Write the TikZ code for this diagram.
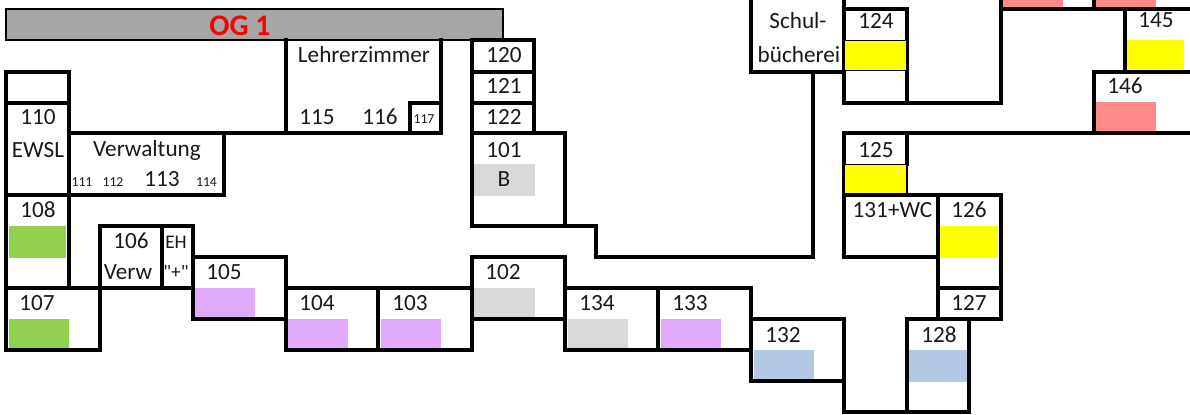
\documentclass[tikz,border=0pt]{standalone}
\usepackage{fontspec}
\setmainfont{Carlito}
\newfontfamily\straightfont{Carlito}
\definecolor{titlegray}{HTML}{A6A6A6}
\definecolor{roomgreen}{HTML}{92D050}
\definecolor{roomlilac}{HTML}{E2AAFD}
\definecolor{roomgray}{HTML}{D9D9D9}
\definecolor{roomblue}{HTML}{B4C7E7}
\definecolor{roompink}{HTML}{FF8989}
\definecolor{roomyellow}{HTML}{FFFF00}
\definecolor{headred}{HTML}{FF0000}
\tikzstyle{wall} = [line width=2.8pt, line cap=rect, line join=miter]

\begin{document}
\begin{tikzpicture}[
  x=0.02cm, y=-0.02cm,
  lab/.style={inner sep=0pt, font=\fontsize{13.2}{14}\selectfont, text=black!90},
  smalllab/.style={inner sep=0pt, font=\fontsize{7.8}{8}\selectfont, text=black!90},
  narrow/.style={inner sep=0pt, font=\straightfont\fontsize{11}{12}\selectfont, text=black!90},
  heading/.style={inner sep=0pt, font=\fontsize{17}{18}\selectfont\bfseries, text=headred}
]
\useasboundingbox (0,0) rectangle (1190,414);
\clip (0,0) rectangle (1190,414);

% Colour marks
\foreach \xa/\ya/\xb/\yb/\c in {9/226/66/258/roomgreen, 9/319/69/348/roomgreen,
    195/288/255/317/roomlilac, 288/319/348/348/roomlilac, 381/319/441/348/roomlilac,
    661/319/721/348/roomlilac, 474/164/535/196/roomgray, 474/288/535/317/roomgray,
    568/319/628/348/roomgray, 754/350/814/379/roomblue, 909/350/967/382/roomblue,
    940/226/998/258/roomyellow, 1127/40/1184/69/roomyellow, 1003/0/1063/7/roompink,
    1096/0/1156/7/roompink, 1096/102/1156/131/roompink}
  \fill[\c] (\xa,\ya) rectangle (\xb,\yb);

% Title bar
\node[draw, line width=1.1pt, fill=titlegray, minimum width=9.94cm, minimum height=0.62cm, inner sep=0pt] (bar) at (254.5,24.5) {};
\node[heading] (og) at (240,26) {OG 1};

% Left wing
\draw[wall] (6,72) rectangle (69,288);
\draw[wall] (6,103) -- (69,103);
\draw[wall] (6,195) -- (69,195);
\draw[wall] (6,288) rectangle (100,350);
\draw[wall] (69,133) -- (441,133);
\draw[wall] (224,133) -- (224,195) -- (69,195);
\draw[wall] (286,40) -- (286,133);
\draw[wall] (441,40) -- (441,133);
\draw[wall] (410,133) -- (410,103) -- (441,103);

% South corridor
\draw[wall] (100,288) -- (100,226) -- (193,226) -- (193,288);
\draw[wall] (162,226) -- (162,288);
\draw[wall] (100,288) -- (193,288);
\draw[wall] (193,257) rectangle (286,319);
\draw[wall] (286,288) rectangle (472,350);
\draw[wall] (378,288) -- (378,350);
\draw[wall] (472,257) rectangle (565,319);
\draw[wall] (565,288) rectangle (751,350);
\draw[wall] (658,288) -- (658,350);
\draw[wall] (751,319) rectangle (844,381);

% Centre block
\draw[wall] (472,40) rectangle (534,133);
\draw[wall] (472,72) -- (534,72);
\draw[wall] (472,103) -- (534,103);
\draw[wall] (472,133) -- (472,226) -- (596,226) -- (596,257) -- (813,257) -- (813,72);
\draw[wall] (472,133) -- (565,133) -- (565,226);

% East wing
\draw[wall] (751,0) -- (751,72) -- (844,72);
\draw[wall] (844,0) -- (844,103) -- (1001,103) -- (1001,0);
\draw[wall] (844,9) -- (907,9) -- (907,103);
\draw[wall] (1001,9) -- (1195,9);
\draw[wall] (1094,0) -- (1094,9);
\draw[wall] (1125,9) -- (1125,72);
\draw[wall] (1195,72) -- (1094,72) -- (1094,133);
\draw[wall] (1195,133) -- (844,133) -- (844,195);
\draw[wall] (907,133) -- (907,164);
\draw[wall] (844,195) rectangle (938,257);
\draw[wall] (938,195) rectangle (1001,288);
\draw[wall] (938,288) rectangle (1001,319);
\draw[wall] (844,319) -- (844,412) -- (969,412) -- (969,319) -- (907,319) -- (907,412);

% Yellow marks sit on the walls
\foreach \ya/\yb in {40.5/70.5, 164.5/194}
  \draw[line width=0.6pt, fill=roomyellow] (844.5,\ya) rectangle (907,\yb);

% Room numbers
\foreach \x/\y/\t in {38/117/110, 38/210/108, 37/303/107, 131/241/106, 224/272/105,
    317/303/104, 410/303/103, 503/272/102, 597/303/134, 690/303/133, 783/335/132,
    939/335/128, 969/303/127, 969/210/126, 876/150/125, 876/21/124, 1156/20/145,
    1125/86/146, 162/179/113, 317/117/115, 380/117/116, 504/55/120, 504/86/121,
    504/117/122, 504/150/101}
  \node[lab] (r\t) at (\x,\y) {\t};
\foreach \x/\y/\t in {82/182/111, 113/182/112, 206.5/182/114, 424/119/117}
  \node[smalllab] (r\t) at (\x,\y) {\t};

% Room names
\node[lab] (ewsl) at (38,150) {EWSL};
\node[lab] (verwaltung) at (147,150) {Verwaltung};
\node[lab] (lehrer) at (364,55) {Lehrerzimmer};
\node[lab] (verw) at (128,272) {Verw};
\node[narrow] (eh) at (176,242) {EH};
\node[narrow] (plus) at (176,272) {"+"};
\node[lab] (bad) at (504,179) {B};
\node[lab] (wc) at (892.5,210) {131+WC};
\node[lab] (schul) at (798,21) {Schul-};
\node[lab] (buch) at (799,55) {bücherei};
\end{tikzpicture}
\end{document}
